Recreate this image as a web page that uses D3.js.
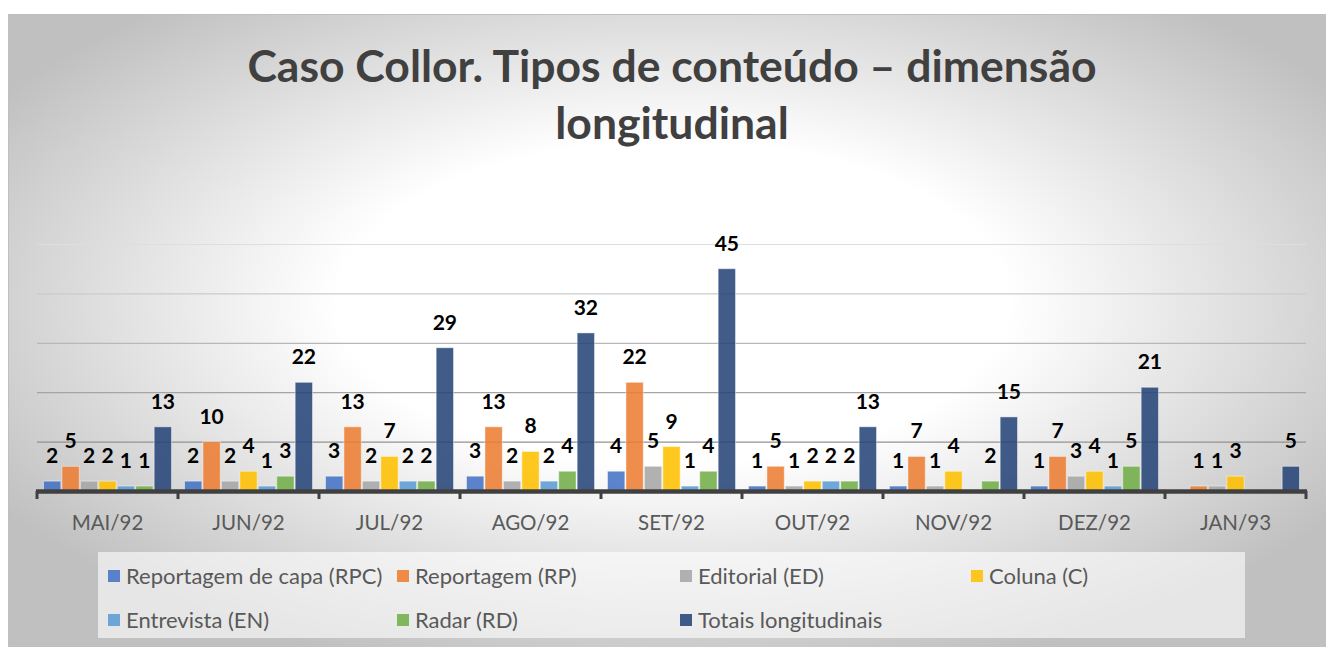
<!DOCTYPE html>
<html lang="pt">
<head>
<meta charset="UTF-8">
<title>Caso Collor. Tipos de conteúdo</title>
<script src="https://d3js.org/d3.v7.min.js"></script>
<style>
  body { margin: 0; background: #fff; }
  svg { display: block; }
</style>
</head>
<body>
<svg width="1326" height="647"></svg>
<script>
// data
const categories = ["MAI/92", "JUN/92", "JUL/92", "AGO/92", "SET/92", "OUT/92", "NOV/92", "DEZ/92", "JAN/93"];
const seriesNames = ["Reportagem de capa (RPC)", "Reportagem (RP)", "Editorial (ED)", "Coluna (C)",
                     "Entrevista (EN)", "Radar (RD)", "Totais longitudinais"];
const rpc    = [2, 2, 3, 3, 4, 1, 1, 1, null];
const rp     = [5, 10, 13, 13, 22, 5, 7, 7, 1];
const ed     = [2, 2, 2, 2, 5, 1, 1, 3, 1];
const coluna = [2, 4, 7, 8, 9, 2, 4, 4, 3];
const en     = [1, 1, 2, 2, 1, 2, null, 1, null];
const radar  = [1, 3, 2, 4, 4, 2, 2, 5, null];
const totais = [13, 22, 29, 32, 45, 13, 15, 21, 5];
const yTicks = [0, 10, 20, 30, 40, 50];

const seriesValues = [rpc, rp, ed, coluna, en, radar, totais];
const colors = ["#4472C4", "#ED7D31", "#A5A5A5", "#FFC000", "#5B9BD5", "#70AD47", "#264478"];

const svg = d3.select("svg");
const font = "Lato, 'Open Sans', sans-serif";

// chart background with radial gradient
const defs = svg.append("defs");
const grad = defs.append("radialGradient").attr("id", "bg")
    .attr("cx", 0.5).attr("cy", 0.45).attr("r", 0.6);
grad.append("stop").attr("offset", 0).attr("stop-color", "#ffffff");
grad.append("stop").attr("offset", 0.42).attr("stop-color", "#ffffff");
grad.append("stop").attr("offset", 1).attr("stop-color", "#c0c0c0");

svg.append("rect")
    .attr("x", 8.5).attr("y", 14.5).attr("width", 1330).attr("height", 640)
    .attr("fill", "url(#bg)").attr("stroke", "#bfbfbf");

// title
const title = svg.append("text")
    .attr("text-anchor", "middle")
    .attr("font-family", font).attr("font-weight", "bold")
    .attr("font-size", 44.5).attr("fill", "#404040");
title.append("tspan").attr("x", 672).attr("y", 82).text("Caso Collor. Tipos de conteúdo – dimensão");
title.append("tspan").attr("x", 672).attr("y", 139).text("longitudinal");

// scales
const x = d3.scaleBand().domain(categories).range([37, 1306]);
const xInner = d3.scaleBand().domain(d3.range(seriesNames.length))
    .range([6.5, x.bandwidth() - 6.5]).paddingInner(0.06);
const y = d3.scaleLinear().domain([0, 50]).range([491, 244]);

// gridlines, darker toward the bottom
const gridColor = d3.scaleLinear().domain([0, 50]).range(["#7f7f7f", "#dedede"]);
svg.append("g").selectAll("line")
    .data(yTicks.filter(d => d > 0))
    .join("line")
    .attr("x1", x.range()[0]).attr("x2", x.range()[1])
    .attr("y1", d => y(d) + 0.5).attr("y2", d => y(d) + 0.5)
    .attr("stroke", d => gridColor(d)).attr("stroke-width", 1.2);

// bars
const bars = [];
seriesValues.forEach((vals, s) => {
    vals.forEach((v, i) => {
        if (v != null) bars.push({ s, cat: categories[i], v });
    });
});

svg.append("g").selectAll("rect")
    .data(bars)
    .join("rect")
    .attr("x", d => x(d.cat) + xInner(d.s))
    .attr("width", xInner.bandwidth())
    .attr("y", d => y(d.v))
    .attr("height", d => y(0) - y(d.v))
    .attr("fill", d => colors[d.s]).attr("fill-opacity", 0.87)
    .attr("stroke", "#ffffff").attr("stroke-opacity", 0.45).attr("stroke-width", 1);

// data labels
svg.append("g").selectAll("text")
    .data(bars)
    .join("text")
    .attr("x", d => x(d.cat) + xInner(d.s) + xInner.bandwidth() / 2)
    .attr("y", d => y(d.v) - 18)
    .attr("text-anchor", "middle")
    .attr("font-family", font).attr("font-weight", "bold").attr("font-size", 21)
    .attr("fill", "#000")
    .text(d => d.v);

// category axis
const xAxis = svg.append("g").attr("transform", `translate(0,${y(0)})`)
    .call(d3.axisBottom(x).tickSize(0).tickPadding(24));
xAxis.select(".domain").remove();
xAxis.selectAll("text")
    .attr("font-family", font).attr("font-size", 20.5).attr("fill", "#595959");

svg.append("line")
    .attr("x1", x.range()[0] - 1).attr("x2", x.range()[1] + 1)
    .attr("y1", y(0) + 0.5).attr("y2", y(0) + 0.5)
    .attr("stroke", "#404040").attr("stroke-width", 4.5);
svg.append("g").selectAll("line")
    .data(categories.map(c => x(c)).concat([x.range()[1]]))
    .join("line")
    .attr("x1", d => d).attr("x2", d => d)
    .attr("y1", y(0)).attr("y2", y(0) + 8)
    .attr("stroke", "#404040").attr("stroke-width", 3);

// legend
const legendX = [108, 397, 680, 971];
const legendY = [576, 620];
svg.append("rect")
    .attr("x", 98).attr("y", 552).attr("width", 1147).attr("height", 86)
    .attr("fill", "#ffffff").attr("fill-opacity", 0.6);

const legend = svg.append("g").selectAll("g")
    .data(seriesNames)
    .join("g")
    .attr("transform", (d, i) => `translate(${legendX[i % 4]},${legendY[Math.floor(i / 4)]})`);
legend.append("rect")
    .attr("x", 0).attr("y", -6).attr("width", 12).attr("height", 12)
    .attr("fill", (d, i) => colors[i]).attr("fill-opacity", 0.87);
legend.append("text")
    .attr("x", 18).attr("y", 7.5)
    .attr("font-family", font).attr("font-size", 22).attr("fill", "#595959")
    .text(d => d);
</script>
</body>
</html>
